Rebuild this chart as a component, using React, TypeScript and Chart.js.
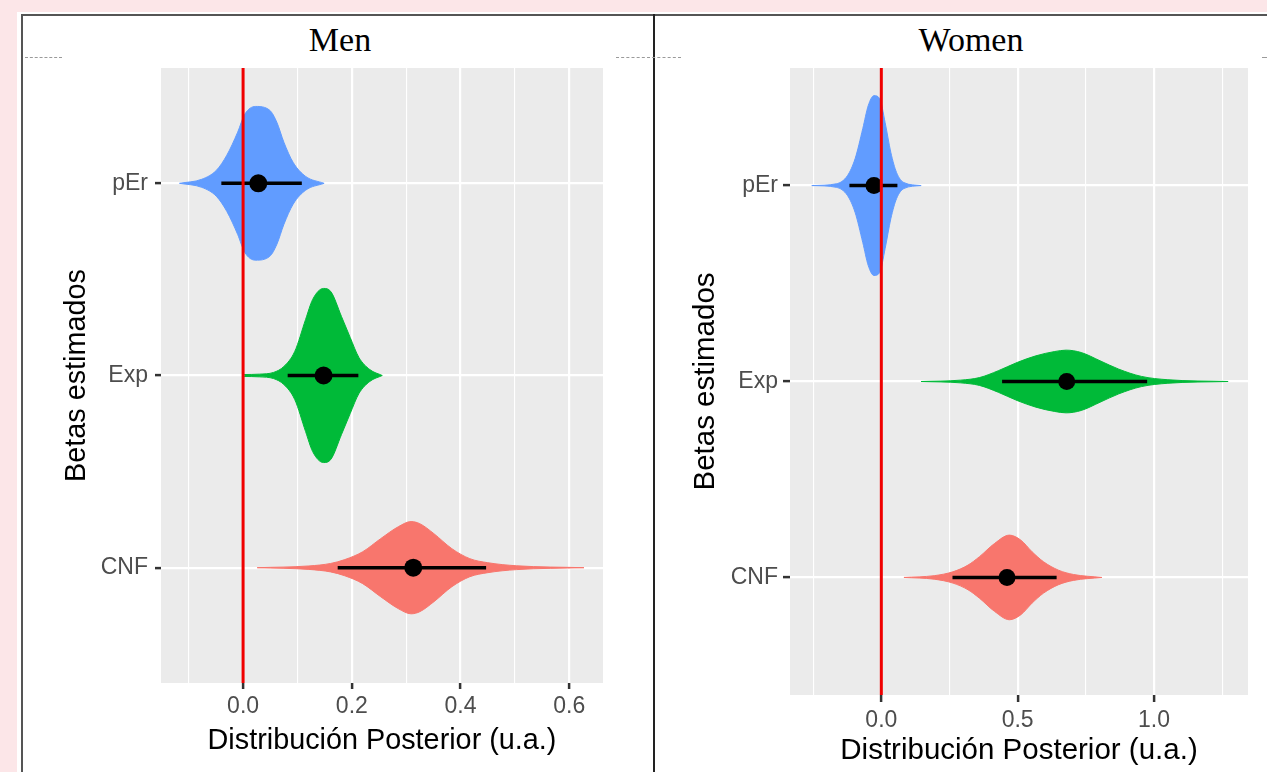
import React, { useEffect, useRef } from 'react';
import { Chart, registerables } from 'chart.js';

Chart.register(...registerables);

// ---------- data ----------
const categories = ['pEr', 'Exp', 'CNF'];
const violinColors = ['#619CFF', '#00BA38', '#F8766D'];

// Men panel
const menXMajor = [0, 0.2, 0.4, 0.6];
const menXMinor = [-0.1, 0.1, 0.3, 0.5];
const menXRange = [-0.151, 0.662];

const menPErX = [-0.117, -0.076, -0.049, -0.03, -0.01, 0.003, 0.023, 0.049, 0.062, 0.075, 0.092, 0.115, 0.149];
const menPErW = [0, 0.021, 0.068, 0.146, 0.266, 0.359, 0.4, 0.38, 0.318, 0.214, 0.109, 0.036, 0];
const menExpX = [0.002, 0.03, 0.056, 0.075, 0.095, 0.115, 0.128, 0.148, 0.161, 0.181, 0.197, 0.213, 0.233, 0.256];
const menExpW = [0.005, 0.007, 0.016, 0.047, 0.125, 0.292, 0.396, 0.453, 0.438, 0.307, 0.198, 0.094, 0.031, 0];
const menCNFX = [0.026, 0.121, 0.161, 0.187, 0.22, 0.253, 0.286, 0.309, 0.325, 0.351, 0.384, 0.417, 0.45, 0.503, 0.627];
const menCNFW = [0, 0.009, 0.022, 0.042, 0.083, 0.151, 0.214, 0.24, 0.229, 0.177, 0.099, 0.047, 0.026, 0.01, 0];

const menEstimate = [0.028, 0.148, 0.313];
const menLower = [-0.04, 0.082, 0.174];
const menUpper = [0.108, 0.212, 0.447];

// Women panel
const womenXMajor = [0, 0.5, 1.0];
const womenXMinor = [-0.25, 0.25, 0.75, 1.25];
const womenXRange = [-0.335, 1.345];

const womenPErX = [-0.255, -0.165, -0.124, -0.096, -0.068, -0.048, -0.027, -0.006, 0.014, 0.035, 0.056, 0.083, 0.146];
const womenPErW = [0, 0.009, 0.051, 0.138, 0.291, 0.408, 0.459, 0.444, 0.321, 0.168, 0.066, 0.015, 0];
const womenExpX = [0.146, 0.291, 0.36, 0.429, 0.498, 0.567, 0.636, 0.678, 0.733, 0.802, 0.871, 0.954, 1.051, 1.272];
const womenExpW = [0, 0.007, 0.02, 0.055, 0.097, 0.131, 0.153, 0.16, 0.148, 0.106, 0.063, 0.026, 0.009, 0];
const womenCNFX = [0.083, 0.194, 0.263, 0.318, 0.36, 0.415, 0.47, 0.512, 0.553, 0.595, 0.65, 0.705, 0.809];
const womenCNFW = [0, 0.009, 0.029, 0.063, 0.106, 0.173, 0.216, 0.19, 0.131, 0.08, 0.037, 0.015, 0];

const womenEstimate = [-0.027, 0.68, 0.461];
const womenLower = [-0.117, 0.443, 0.261];
const womenUpper = [0.059, 0.975, 0.643];

const yRange = [0.4, 3.6];
const referenceX = 0;

// ---------- styling / layout ----------
const SANS = '"Liberation Sans", Arial, sans-serif';
const SERIF = '"Liberation Serif", "Times New Roman", serif';

type Layout = {
  left: number; top: number; width: number; height: number;
  padTop: number; padRight: number; yAxisW: number; xAxisH: number;
  yTitlePad: number; xTitlePad: number;
  tickLen: number; xTickPad: number; yTickPad: number;
  dotR: number; ciW: number; tickFont: number; titleFont: number;
};

type Panel = {
  title: string;
  titleX: number;
  xRange: number[]; xMajor: number[]; xMinor: number[];
  vx: number[][]; vw: number[][];
  est: number[]; lo: number[]; hi: number[];
  L: Layout;
};

const panels: Panel[] = [
  {
    title: 'Men', titleX: 340,
    xRange: menXRange, xMajor: menXMajor, xMinor: menXMinor,
    vx: [menPErX, menExpX, menCNFX], vw: [menPErW, menExpW, menCNFW],
    est: menEstimate, lo: menLower, hi: menUpper,
    L: {
      left: 23, top: 16, width: 630, height: 756,
      padTop: 52, padRight: 50, yAxisW: 138, xAxisH: 89,
      yTitlePad: 37, xTitlePad: 14, tickLen: 6, xTickPad: 4, yTickPad: 7,
      dotR: 9, ciW: 3.5, tickFont: 23, titleFont: 28.8,
    },
  },
  {
    title: 'Women', titleX: 971,
    xRange: womenXRange, xMajor: womenXMajor, xMinor: womenXMinor,
    vx: [womenPErX, womenExpX, womenCNFX], vw: [womenPErW, womenExpW, womenCNFW],
    est: womenEstimate, lo: womenLower, hi: womenUpper,
    L: {
      left: 656, top: 16, width: 611, height: 756,
      padTop: 52, padRight: 19, yAxisW: 134, xAxisH: 77,
      yTitlePad: 32, xTitlePad: 3, tickLen: 7, xTickPad: 5, yTickPad: 5,
      dotR: 8.5, ciW: 3.5, tickFont: 23, titleFont: 29.5,
    },
  },
];

const bgPlugin = {
  id: 'panelBg',
  beforeDraw(chart: any) {
    const { ctx, chartArea } = chart;
    if (!chartArea) return;
    ctx.save();
    ctx.fillStyle = '#EBEBEB';
    ctx.fillRect(chartArea.left, chartArea.top, chartArea.right - chartArea.left, chartArea.bottom - chartArea.top);
    ctx.restore();
  },
};

function buildConfig(p: Panel): any {
  const L = p.L;
  const datasets: any[] = [];
  // reference line at 0
  datasets.push({
    type: 'line',
    data: [{ x: referenceX, y: yRange[0] }, { x: referenceX, y: yRange[1] }],
    borderColor: '#F00000', borderWidth: 3, pointRadius: 0, fill: false, order: 0,
  });
  // point estimates
  datasets.push({
    type: 'scatter',
    data: p.est.map((v, i) => ({ x: v, y: i + 1 })),
    pointRadius: L.dotR, pointBackgroundColor: '#000', pointBorderWidth: 0, pointHoverRadius: L.dotR, order: 1,
  });
  // intervals
  p.est.forEach((_, i) => {
    datasets.push({
      type: 'line',
      data: [{ x: p.lo[i], y: i + 1 }, { x: p.hi[i], y: i + 1 }],
      borderColor: '#000', borderWidth: L.ciW, pointRadius: 0, fill: false, order: 2, borderCapStyle: 'butt',
    });
  });
  // violins
  p.vx.forEach((xs, i) => {
    const ws = p.vw[i];
    const c = violinColors[i];
    datasets.push({
      type: 'line',
      data: xs.map((x, k) => ({ x, y: i + 1 - ws[k] })),
      borderColor: c, backgroundColor: c, borderWidth: 1, pointRadius: 0, fill: false, order: 3,
      cubicInterpolationMode: 'monotone',
    });
    datasets.push({
      type: 'line',
      data: xs.map((x, k) => ({ x, y: i + 1 + ws[k] })),
      borderColor: c, backgroundColor: c, borderWidth: 1, pointRadius: 0, fill: '-1', order: 3,
      cubicInterpolationMode: 'monotone',
    });
  });

  const isMajor = (v: number) => p.xMajor.some((m) => Math.abs(m - v) < 1e-9);

  return {
    type: 'scatter',
    data: { datasets },
    plugins: [bgPlugin],
    options: {
      animation: false,
      responsive: false,
      events: [],
      layout: { padding: { top: L.padTop, right: L.padRight, left: 0, bottom: 0 } },
      plugins: { legend: { display: false }, tooltip: { enabled: false }, title: { display: false } },
      scales: {
        x: {
          type: 'linear',
          min: p.xRange[0],
          max: p.xRange[1],
          afterBuildTicks: (s: any) => {
            s.ticks = [...p.xMinor, ...p.xMajor].sort((a, b) => a - b).map((v) => ({ value: v }));
          },
          afterFit: (s: any) => { s.height = L.xAxisH; },
          ticks: {
            autoSkip: false, maxRotation: 0, minRotation: 0, padding: L.xTickPad,
            color: '#4D4D4D', font: { family: SANS, size: L.tickFont },
            callback: (v: any) => (isMajor(Number(v)) ? Number(v).toFixed(1) : ''),
          },
          grid: {
            color: '#FFFFFF',
            lineWidth: (c: any) => (c.tick && isMajor(c.tick.value) ? 2.2 : 1.1),
            tickColor: (c: any) => (c.tick && isMajor(c.tick.value) ? '#333333' : 'rgba(0,0,0,0)'),
            tickLength: L.tickLen, tickWidth: 2.5, drawTicks: true,
          },
          border: { display: false },
          title: {
            display: true, text: 'Distribución Posterior (u.a.)', color: '#000',
            font: { family: SANS, size: L.titleFont }, padding: { top: 0, bottom: L.xTitlePad },
          },
        },
        y: {
          type: 'linear',
          min: yRange[0],
          max: yRange[1],
          reverse: true,
          afterBuildTicks: (s: any) => {
            s.ticks = categories.map((_, i) => ({ value: i + 1 }));
          },
          afterFit: (s: any) => { s.width = L.yAxisW; },
          ticks: {
            autoSkip: false, padding: L.yTickPad, color: '#4D4D4D', font: { family: SANS, size: L.tickFont },
            callback: (v: any) => categories[Number(v) - 1] ?? '',
          },
          grid: { color: '#FFFFFF', lineWidth: 2.2, tickColor: '#333333', tickLength: L.tickLen, tickWidth: 2.5 },
          border: { display: false },
          title: {
            display: true, text: 'Betas estimados', color: '#000',
            font: { family: SANS, size: L.titleFont }, padding: { top: L.yTitlePad, bottom: 0 },
          },
        },
      },
    },
  };
}

function PanelChart({ p }: { p: Panel }) {
  const ref = useRef<HTMLCanvasElement | null>(null);
  useEffect(() => {
    if (!ref.current) return;
    const chart = new Chart(ref.current, buildConfig(p));
    return () => chart.destroy();
  }, [p]);
  const L = p.L;
  return (
    <canvas
      ref={ref}
      width={L.width}
      height={L.height}
      style={{ position: 'absolute', left: L.left, top: L.top, width: L.width, height: L.height }}
    />
  );
}

const dash = (left: number, width: number): React.CSSProperties => ({
  position: 'absolute', left, top: 57, width, height: 0, borderTop: '1px dashed #9a9a9a',
});

export default function App() {
  return (
    <div style={{ position: 'absolute', left: 0, top: 0, width: 1267, height: 772, background: '#FCE6E8', overflow: 'hidden' }}>
      <div style={{ position: 'absolute', left: 17, top: 12, width: 1250, height: 760, background: '#FFFFFF' }} />
      {/* frame */}
      <div style={{ position: 'absolute', left: 21, top: 14, width: 1246, height: 2, background: '#555555' }} />
      <div style={{ position: 'absolute', left: 21, top: 14, width: 2, height: 758, background: '#555555' }} />
      <div style={{ position: 'absolute', left: 653, top: 14, width: 2, height: 758, background: '#222222' }} />
      <div style={dash(25, 37)} />
      <div style={dash(616, 65)} />
      <div style={dash(1262, 5)} />
      {panels.map((p) => (
        <div
          key={p.title}
          style={{
            position: 'absolute', left: p.titleX - 100, top: 23, width: 200, textAlign: 'center',
            fontFamily: SERIF, fontSize: 34, lineHeight: '34px', color: '#000',
          }}
        >
          {p.title}
        </div>
      ))}
      {panels.map((p) => (
        <PanelChart key={p.title + '-c'} p={p} />
      ))}
    </div>
  );
}
